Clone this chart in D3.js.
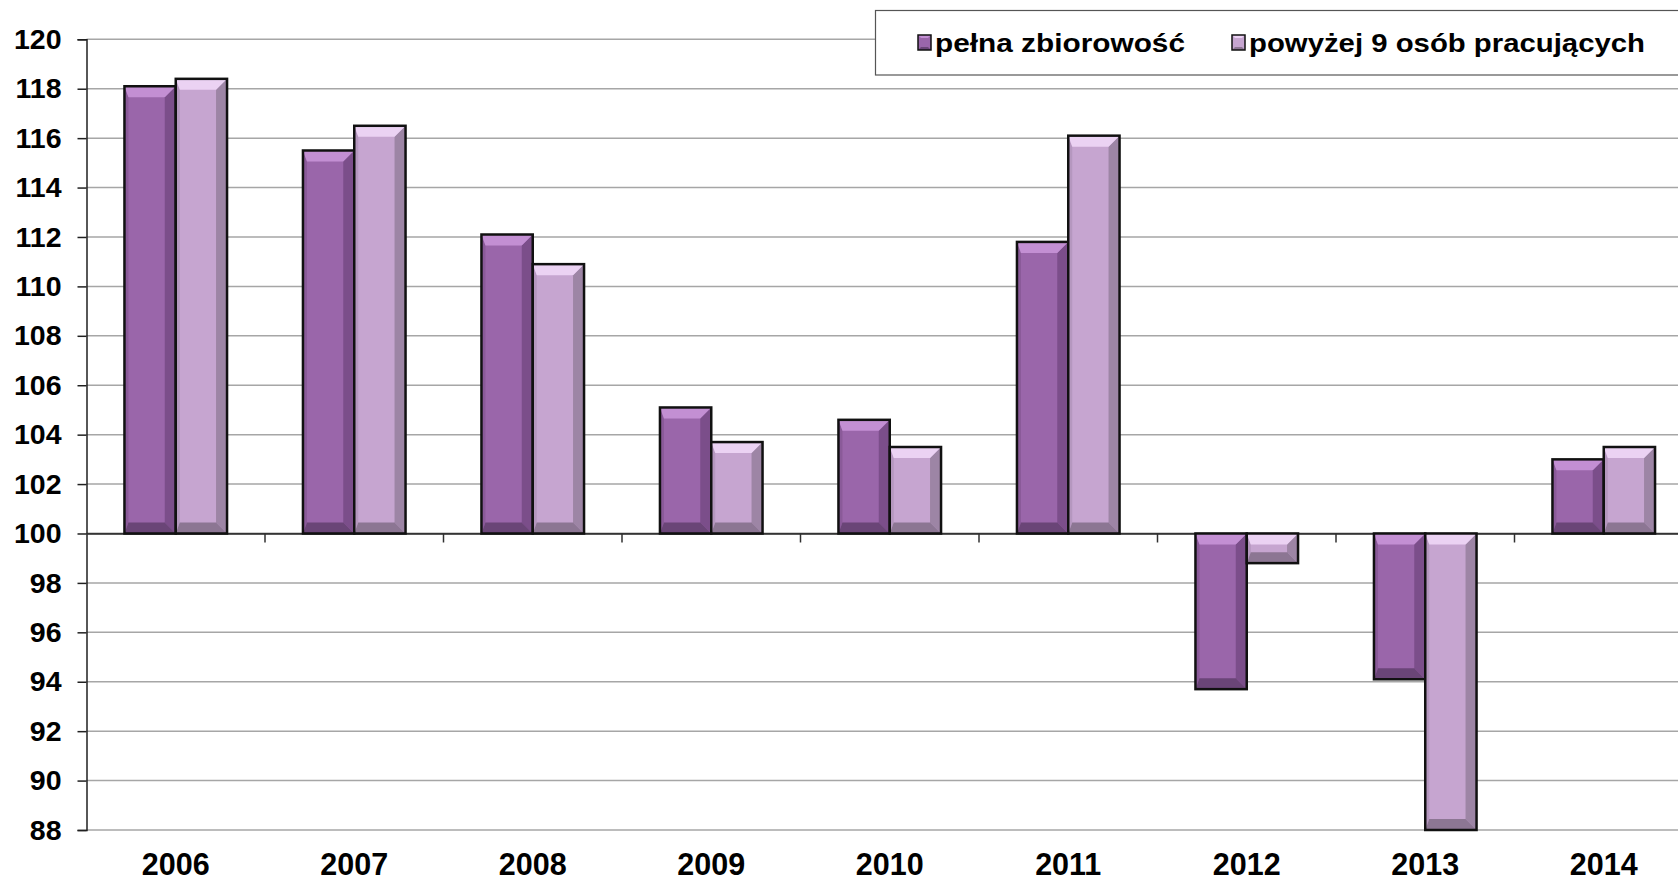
<!DOCTYPE html>
<html><head><meta charset="utf-8">
<script src="https://cdn.jsdelivr.net/npm/d3@7/dist/d3.min.js"></script>
<style>
html,body{margin:0;padding:0;background:#fff;overflow:hidden;}
svg{display:block;font-family:"Liberation Sans",Arial,sans-serif;font-weight:bold;}
</style></head><body>
<svg id="c" width="1678" height="882"></svg>
<script>
const years = ["2006","2007","2008","2009","2010","2011","2012","2013","2014"];
const seriesNames = ["pełna zbiorowość","powyżej 9 osób pracujących"];
const pelna = [118.1,115.5,112.1,105.1,104.6,111.8,93.7,94.1,103.0];
const powyzej = [118.4,116.5,110.9,103.7,103.5,116.1,98.8,88.0,103.5];
const yTicks = [88,90,92,94,96,98,100,102,104,106,108,110,112,114,116,118,120];
const base = 100;

const svg = d3.select("#c");
const x = d3.scaleBand().domain(years).range([86.5, 1693]).padding(0);
const xs = d3.scaleBand().domain([0,1]).range([0, x.bandwidth()]).paddingInner(0).paddingOuter(0.74);
const y = d3.scaleLinear().domain([88,120]).range([830, 39.3]);

const pal = [
  {main:"#9a66aa", top:"#c38fd3", left:"#8a5a99", right:"#7b4e8a", bottom:"#6a4577"},
  {main:"#c6a5d0", top:"#ebd2f3", left:"#b597bf", right:"#9d85a5", bottom:"#8c7693"}
];

// gridlines
svg.append("g").selectAll("line").data(yTicks).join("line")
  .attr("x1", 86.5).attr("x2", 1678)
  .attr("y1", d => y(d)).attr("y2", d => y(d))
  .attr("stroke", d => d === base ? "#404040" : "#a6a6a6")
  .attr("stroke-width", 1.5);

// y axis
const yAxis = svg.append("g").attr("transform","translate(86.5,0)")
  .call(d3.axisLeft(y).tickValues(yTicks).tickSize(9).tickPadding(16).tickFormat(d3.format("d")));
yAxis.select(".domain").attr("stroke","#202020").attr("stroke-width",1.5);
yAxis.selectAll(".tick line").attr("stroke","#202020").attr("stroke-width",1.5);
yAxis.selectAll("text").attr("font-size",28.5).attr("font-weight","bold").attr("fill","#000")
  .attr("font-family","'Liberation Sans',Arial,sans-serif");

// x axis at 100
const xAxis = svg.append("g").attr("transform",`translate(0,${y(base)})`)
  .call(d3.axisBottom(x).tickSize(0).tickFormat(""));
xAxis.select(".domain").attr("stroke","#303030").attr("stroke-width",1.5);
xAxis.selectAll(".tick").remove();
svg.append("g").selectAll("line").data(years.slice(1)).join("line")
  .attr("x1", d => x(d)).attr("x2", d => x(d))
  .attr("y1", y(base)).attr("y2", y(base)+9)
  .attr("stroke","#303030").attr("stroke-width",1.5);

// x labels
svg.append("g").selectAll("text").data(years).join("text")
  .attr("x", d => x(d) + x.bandwidth()/2).attr("y", 875)
  .attr("text-anchor","middle").attr("font-size",30.5).attr("fill","#000").text(d => d);

// bars
const data = [];
years.forEach((yr,i) => {
  [pelna[i], powyzej[i]].forEach((v,s) => data.push({yr, s, v}));
});
const bars = svg.append("g");
data.forEach(d => {
  const x0 = x(d.yr) + xs(d.s), w = xs.bandwidth();
  const y0 = Math.min(y(d.v), y(base)), h = Math.abs(y(d.v) - y(base));
  const b = Math.min(11, h/2, w/2);
  const bl = Math.min(4, b);
  const c = pal[d.s];
  const g = bars.append("g");
  const x1 = x0 + w, y1 = y0 + h;
  g.append("rect").attr("x",x0).attr("y",y0).attr("width",w).attr("height",h).attr("fill",c.main);
  g.append("polygon").attr("points",[[x0,y0],[x0+bl,y0+b],[x0+bl,y1-b],[x0,y1]].join(" ")).attr("fill",c.left);
  g.append("polygon").attr("points",[[x1,y0],[x1,y1],[x1-b,y1-b],[x1-b,y0+b]].join(" ")).attr("fill",c.right);
  g.append("polygon").attr("points",[[x0,y1],[x1,y1],[x1-b,y1-b],[x0+bl,y1-b]].join(" ")).attr("fill",c.bottom);
  g.append("polygon").attr("points",[[x0,y0],[x1,y0],[x1-b,y0+b],[x0+bl,y0+b]].join(" ")).attr("fill",c.top);
  g.append("rect").attr("x",x0).attr("y",y0).attr("width",w).attr("height",h)
    .attr("fill","none").attr("stroke","#111").attr("stroke-width",2.5);
});

// legend
const lg = svg.append("g");
lg.append("rect").attr("x",875.5).attr("y",10.5).attr("width",900).attr("height",64.5)
  .attr("fill","#fff").attr("stroke","#555").attr("stroke-width",1.2);
const legendItems = [
  {sq:918, tx:935, tl:250},
  {sq:1232, tx:1249, tl:396}
];
legendItems.forEach((li,i) => {
  const c = pal[i];
  const sx = li.sq, sy = 35, sw = 13, sh = 15, b = 3;
  lg.append("rect").attr("x",sx).attr("y",sy).attr("width",sw).attr("height",sh).attr("fill",c.main);
  lg.append("polygon").attr("points",[[sx,sy],[sx+sw,sy],[sx+sw-b,sy+b],[sx+b,sy+b]].join(" ")).attr("fill",c.top);
  lg.append("polygon").attr("points",[[sx,sy+sh],[sx+sw,sy+sh],[sx+sw-b,sy+sh-b],[sx+b,sy+sh-b]].join(" ")).attr("fill",c.bottom);
  lg.append("rect").attr("x",sx).attr("y",sy).attr("width",sw).attr("height",sh)
    .attr("fill","none").attr("stroke","#111").attr("stroke-width",1.5);
  lg.append("text").attr("x",li.tx).attr("y",52).attr("font-size",26.5).attr("fill","#000")
    .attr("textLength",li.tl).attr("lengthAdjust","spacingAndGlyphs").text(seriesNames[i]);
});
</script>
</body></html>
